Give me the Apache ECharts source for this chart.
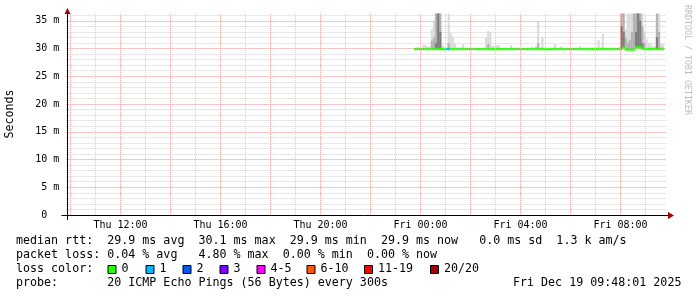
<!DOCTYPE html>
<html><head><meta charset="utf-8">
<script src="https://cdn.jsdelivr.net/npm/echarts@6/dist/echarts.min.js"></script>
<style>html,body{margin:0;padding:0;background:#fff}#c{width:697px;height:297px}</style>
</head><body><div id="c"></div>
<script>
// ---------- data ----------
const xTickLabels = ['Thu 12:00','Thu 16:00','Thu 20:00','Fri 00:00','Fri 04:00','Fri 08:00'];
const viewStart = 'Thu 09:50', viewEnd = 'Fri 09:50';
const dataStart = 'Thu 23:45';
const stepMinutes = 5;
// 5-minute steps from Thu 23:45 to Fri 09:40 (ms)
const medianRtt = [
 29.9,29.9,29.9,29.9,29.9,29.9,29.9,29.9,29.9,29.9,29.9,29.9,29.9,29.9,29.9,29.9,29.9,29.9,29.9,29.9,
 29.9,29.9,29.9,29.9,29.9,29.9,29.9,29.9,29.9,29.9,29.9,29.9,29.9,29.9,29.9,29.9,29.9,29.9,29.9,29.9,
 29.9,29.9,29.9,29.9,29.9,29.9,29.9,29.9,29.9,29.9,29.9,29.9,29.9,29.9,29.9,29.9,29.9,29.9,29.9,29.9,
 29.9,29.9,29.9,29.9,29.9,29.9,29.9,29.9,29.9,29.9,29.9,29.9,29.9,29.9,29.9,29.9,29.9,29.9,29.9,29.9,
 29.9,29.9,29.9,29.9,29.9,29.9,29.9,29.9,29.9,29.9,29.9,29.9,29.9,29.9,29.9,29.9,29.9,29.9,29.9,29.9,
 30.2,29.8,29.8,29.8,29.8,29.8,30.2,30.2,30.2,30.0,29.9,29.9,29.9,29.9,29.9,29.9,29.9,29.9,29.9,29.9
];
const smokeMax = [
 30.0,30.2,30.2,30.1,30.6,30.6,30.3,30.4,33.5,35.0,36.3,36.3,36.3,30.6,30.2,30.1,36.3,32.8,32.0,31.0,
 30.1,30.1,30.2,30.8,30.1,30.0,30.1,30.0,30.0,30.1,30.0,30.0,30.1,30.0,32.0,33.2,33.0,30.5,30.4,30.6,
 30.6,30.1,30.0,30.0,30.1,30.0,30.6,30.1,30.0,30.0,30.0,30.1,30.0,30.0,30.0,30.1,30.3,30.0,30.4,35.0,
 30.2,32.1,30.2,30.0,30.1,30.0,30.1,30.8,30.0,30.0,30.4,30.1,30.0,30.0,30.1,30.0,30.0,30.1,30.0,30.4,
 30.0,30.1,30.0,30.0,30.0,30.1,30.0,30.2,31.5,30.2,32.7,30.1,30.0,30.0,30.1,30.0,30.0,30.1,30.2,36.3,
 36.3,33.4,36.3,36.3,36.3,36.3,36.3,36.3,36.3,36.3,33.1,31.7,31.0,30.8,30.4,30.4,36.3,36.3,30.8,30.8
];
const smokeMid = [
 null,null,null,null,null,null,null,null,31.4,32.0,36.3,36.3,36.3,null,null,null,31.0,null,null,null,
 null,null,null,null,null,null,null,null,null,null,null,null,null,null,null,30.8,null,null,null,null,
 null,null,null,null,null,null,null,null,null,null,null,null,null,null,null,null,null,null,null,31.0,
 null,null,null,null,null,null,null,null,null,null,null,null,null,null,null,null,null,null,null,null,
 null,null,null,null,null,null,null,null,null,null,null,null,null,null,null,null,null,null,null,36.3,
 36.3,32.0,31.0,31.5,33.0,36.3,36.3,36.3,36.3,34.0,31.0,null,null,null,null,null,36.3,33.0,null,null
];
const smokeDark = [
 null,null,null,null,null,null,null,null,null,null,31.0,36.3,33.0,null,null,null,null,null,null,null,
 null,null,null,null,null,null,null,null,null,null,null,null,null,null,null,null,null,null,null,null,
 null,null,null,null,null,null,null,null,null,null,null,null,null,null,null,null,null,null,null,null,
 null,null,null,null,null,null,null,null,null,null,null,null,null,null,null,null,null,null,null,null,
 null,null,null,null,null,null,null,null,null,null,null,null,null,null,null,null,null,null,null,34.0,
 33.0,null,null,null,null,null,33.0,36.3,35.0,31.0,null,null,null,null,null,null,32.0,null,null,null
];
// loss bucket per step (index into lossColors)
const lossLevel = [
 0,0,0,0,0,0,0,0,0,0,0,0,0,0,0,1,1,0,0,0,
 0,0,0,0,0,0,0,0,0,0,0,0,0,0,0,0,0,0,0,0,
 0,0,0,0,0,0,0,0,0,0,0,0,0,0,0,0,0,0,0,0,
 0,0,0,0,0,0,0,0,0,0,0,0,0,0,0,0,0,0,0,0,
 0,0,0,0,0,0,0,0,0,0,0,0,0,0,0,0,0,0,0,0,
 0,0,0,0,0,0,0,0,0,0,0,0,0,0,0,0,0,0,0,0
];
const lossLabels = ['0','1','2','3','4-5','6-10','11-19','20/20'];
const lossColors = ['#26ff00','#00b8ff','#0059ff','#7e00ff','#ff00ff','#ff5500','#ff0000','#a10000'];
const statLines = [
 'median rtt:  29.9 ms avg  30.1 ms max  29.9 ms min  29.9 ms now   0.0 ms sd  1.3 k am/s',
 'packet loss: 0.04 % avg   4.80 % max  0.00 % min  0.00 % now',
 'loss color:',
 'probe:       20 ICMP Echo Pings (56 Bytes) every 300s'
];
const stampText = 'Fri Dec 19 09:48:01 2025';
const yTitle = 'Seconds';
const watermark = 'RRDTOOL / TOBI OETIKER';

// ---------- helpers ----------
const toMin = s => (s.startsWith('Fri') ? 1440 : 0) + parseInt(s.slice(4, 6), 10) * 60 + parseInt(s.slice(7, 9), 10);
const fmt = m => (m < 1440 ? 'Thu ' : 'Fri ') + String(Math.floor((m % 1440) / 60)).padStart(2, '0') + ':' + String(m % 60).padStart(2, '0');
const xMin = toMin(viewStart), xMax = toMin(viewEnd);
const categories = [];
for (let m = xMin; m < xMax; m += stepMinutes) categories.push(fmt(m));
const off = categories.indexOf(dataStart);
const place = arr => { const out = new Array(categories.length).fill(null); arr.forEach((v, k) => { out[off + k] = v; }); return out; };
const tickMinutes = xTickLabels.map(toMin);
const hourLines = [];
for (let m = Math.ceil(xMin / 60) * 60; m < xMax; m += 60) hourLines.push(m);

const MONO = '"DejaVu Sans Mono"';
const RED = '#f4a8a8', GRAY = '#d2d2d2';
const BAND = 0.42;
const common = { type: 'bar', xAxisIndex: 0, barGap: '-100%', barCategoryGap: '0%', silent: true, z: 3 };
const series = [];
// vertical grid lines as markLines on the time (value) axis
const gridSeries = (lines, color) => ({ type: 'line', xAxisIndex: 1, yAxisIndex: 0, data: [], silent: true, z: 1,
  markLine: { silent: true, symbol: ['none', 'none'], animation: false, label: { show: false },
    lineStyle: { color: color, type: 'dotted', width: 1, opacity: 1 }, emphasis: { disabled: true },
    data: lines.map(m => ({ xAxis: m, lineStyle: { color: color, type: 'dotted', width: 1 } })) } });
series.push(gridSeries(hourLines.filter(m => (m / 60) % 2 === 1), GRAY));
series.push(gridSeries(hourLines.filter(m => (m / 60) % 2 === 0), RED));
[[smokeMax, '#d9d9d9', 'a'], [smokeMid, '#b2b2b2', 'b'], [smokeDark, '#7c7c7c', 'c']].forEach(([arr, col, st]) => {
  series.push(Object.assign({}, common, { stack: st, itemStyle: { color: 'transparent' },
    data: place(arr.map((v, k) => v == null ? null : medianRtt[k])) }));
  series.push(Object.assign({}, common, { stack: st, itemStyle: { color: col, borderColor: col, borderWidth: 0.3 },
    data: place(arr.map((v, k) => v == null ? null : Math.max(0, v - medianRtt[k]))) }));
});
series.push(Object.assign({}, common, { stack: 'm', itemStyle: { color: 'transparent' },
  data: place(medianRtt.map(v => v - BAND / 2)) }));
series.push(Object.assign({}, common, { stack: 'm',
  data: place(medianRtt.map((v, k) => ({ value: BAND, itemStyle: { color: lossColors[lossLevel[k]], borderColor: lossColors[lossLevel[k]], borderWidth: 0.5 } }))) }));

// ---------- graphics (text legend etc.) ----------
const txt = (t, x, y, extra) => ({ type: 'text', x: x, y: y, z: 10,
  style: Object.assign({ text: t, fill: '#000', fontFamily: MONO, fontSize: 11.66, verticalAlign: 'middle', align: 'left' }, extra || {}) });
const graphics = [];
const lineY = [241, 255, 269, 283];
statLines.forEach((s, i) => graphics.push(txt(s, 16, lineY[i])));
const sqX = [107.5, 145.5, 182.5, 219.5, 256.5, 306.5, 364, 430];
lossLabels.forEach((l, i) => {
  graphics.push({ type: 'rect', z: 10, shape: { x: sqX[i] + 0.5, y: 265.5, width: 8, height: 8 }, style: { fill: lossColors[i], stroke: '#000', lineWidth: 1 } });
  graphics.push(txt(l, sqX[i] + 14, lineY[2]));
});
graphics.push(txt(stampText, 513, lineY[3]));
graphics.push(Object.assign(txt(yTitle, 10, 114, { align: 'center' }), { rotation: Math.PI / 2 }));
graphics.push(Object.assign(txt(watermark, 687, 5, { fill: '#bdbdbd', fontSize: 8.3 }), { rotation: -Math.PI / 2 }));
// axis lines and arrows
graphics.push({ type: 'line', z: 9, shape: { x1: 61.5, y1: 215.5, x2: 668, y2: 215.5 }, style: { stroke: '#000', lineWidth: 1 } });
graphics.push({ type: 'line', z: 9, shape: { x1: 67.5, y1: 220, x2: 67.5, y2: 13 }, style: { stroke: '#000', lineWidth: 1 } });
graphics.push({ type: 'polygon', z: 11, shape: { points: [[668, 212], [674, 215.5], [668, 219]] }, style: { fill: '#a00000' } });
graphics.push({ type: 'polygon', z: 11, shape: { points: [[64.5, 14], [67.5, 8], [70.5, 14]] }, style: { fill: '#a00000' } });

const chart = echarts.init(document.getElementById('c'), null, { renderer: 'canvas' });
chart.setOption({
  animation: false,
  backgroundColor: '#fff',
  grid: { left: 66.33, width: 600, top: 13, bottom: 82, containLabel: false },
  xAxis: [
    { type: 'category', data: categories, boundaryGap: true, show: false },
    { type: 'value', min: xMin, max: xMax, z: 1, position: 'bottom',
      axisLine: { show: false }, axisTick: { show: false }, splitLine: { show: false },
      axisLabel: { customValues: tickMinutes, color: '#000', fontFamily: MONO, fontSize: 10, margin: 5,
        formatter: v => { const i = tickMinutes.indexOf(v); return i >= 0 ? xTickLabels[i] : ''; } } }
  ],
  yAxis: [
    { type: 'value', min: 0, max: 36.4, interval: 5, z: 1,
      axisLine: { show: false }, axisTick: { show: false },
      axisLabel: { showMaxLabel: false, color: '#000', fontFamily: MONO, fontSize: 10, margin: 7,
        formatter: v => v === 0 ? '0  ' : v + ' m' },
      splitLine: { show: true, showMinLine: false, showMaxLine: false, lineStyle: { color: RED, type: 'dotted', width: 1 } } },
    { type: 'value', min: 0, max: 36.4, interval: 1, z: 0, position: 'left',
      axisLine: { show: false }, axisTick: { show: false }, axisLabel: { show: false },
      splitLine: { show: true, showMinLine: false, showMaxLine: false, lineStyle: { color: GRAY, type: 'dotted', width: 1 } } }
  ],
  series: series,
  graphic: graphics
});
</script>
</body></html>
